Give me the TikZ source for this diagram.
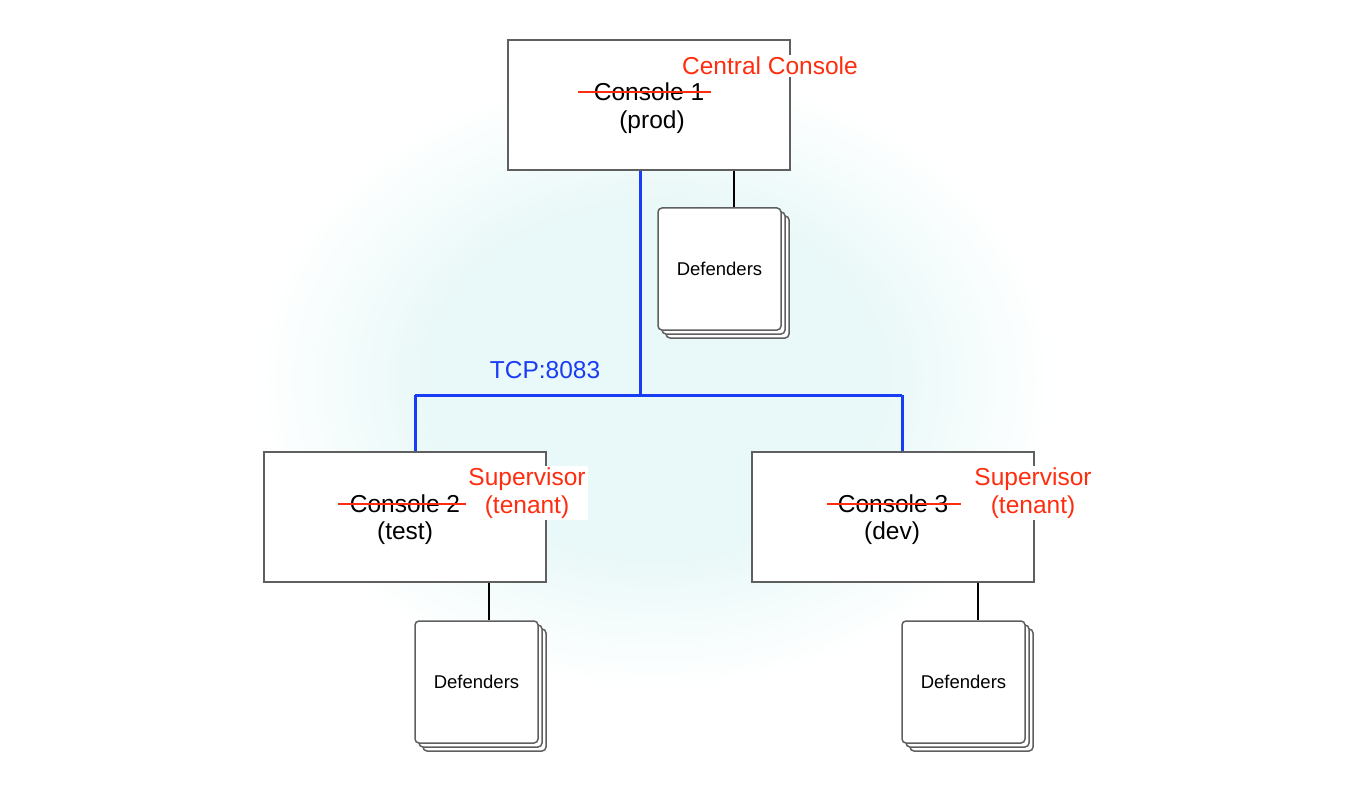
\documentclass[tikz,border=0pt]{standalone}
\usepackage{fontspec}
\setmainfont{Liberation Sans}
\usetikzlibrary{shadows}
\definecolor{lab}{RGB}{255,45,15}
\definecolor{net}{RGB}{25,60,245}
\definecolor{edge}{RGB}{95,95,95}
\definecolor{glow}{RGB}{233,248,248}
\pgfdeclareradialshading{glowshade}{\pgfpoint{0bp}{0bp}}{color(0bp)=(glow); color(14bp)=(glow); color(25bp)=(white); color(50bp)=(white)}
\begin{document}
\begin{tikzpicture}[x=1pt,y=-1pt,
  big/.style={font=\fontsize{24.5}{28}\selectfont},
  conbox/.style={draw=edge, line width=1.8pt, fill=white, minimum width=282pt, minimum height=130pt, inner sep=0pt},
  defbox/.style={draw=edge, line width=1.5pt, fill=white, rounded corners=4pt,
    minimum width=123pt, minimum height=122pt, inner sep=0pt,
    font=\fontsize{18.5}{22}\selectfont,
    double copy shadow={shadow xshift=4pt, shadow yshift=-4pt, draw=edge, fill=white, line width=1.5pt}},
  netline/.style={draw=net, line width=3pt},
  link/.style={draw=black, line width=1.5pt},
  strike/.style={draw=lab, line width=1.6pt},
  tag/.style={big, text=lab, fill=white, inner sep=2pt, align=center}]
\useasboundingbox (0,0) rectangle (1372,791);
\begin{scope}
\clip (0,0) rectangle (1372,791);
\shade[shading=glowshade] (655,380) ellipse [x radius=400, y radius=310];
\end{scope}
% named points
\coordinate (hub) at (640,395);
\coordinate (l2) at (415,395);
\coordinate (l3) at (902,395);
\coordinate (k1) at (734,190);
\coordinate (k2) at (489,600);
\coordinate (k3) at (978,600);
% boxes
\node[conbox] (c1) at (649,105) {};
\node[conbox] (c2) at (405,517) {};
\node[conbox] (c3) at (893,517) {};
% network lines
\draw[netline] (c1.south -| hub) -- (hub);
\draw[netline] (l2) -- (l3);
\draw[netline] (l2) -- (c2.north -| l2);
\draw[netline] (l3) -- (c3.north -| l3);
\node[big, text=net] (tcp) at (545,370) {TCP:8083};
% defenders
\node[defbox] (d1) at (719.5,269) {Defenders};
\node[defbox] (d2) at (476.5,682) {Defenders};
\node[defbox] (d3) at (963.5,682) {Defenders};
\draw[link] (c1.south -| k1) -- (d1.north -| k1);
\draw[link] (c2.south -| k2) -- (d2.north -| k2);
\draw[link] (c3.south -| k3) -- (d3.north -| k3);
% console texts
\node[big] (c1n) at (649,92) {Console 1};
\node[big] (c1e) at (652,122) {(prod)};
\node[big] (c2n) at (405,504) {Console 2};
\node[big] (c2e) at (405,533) {(test)};
\node[big] (c3n) at (893,504) {Console 3};
\node[big] (c3e) at (892,533) {(dev)};
\draw[strike] ([xshift=-12pt]c1n.west) -- ([xshift=3pt]c1n.east);
\draw[strike] ([xshift=-8pt]c2n.west) -- ([xshift=9pt]c2n.east);
\draw[strike] ([xshift=-7pt]c3n.west) -- ([xshift=9pt]c3n.east);
% labels
\node[tag] (cc) at (770,66) {Central Console};
\node[tag] (s2) at (527,493) {Supervisor\\(tenant)};
\node[tag] (s3) at (1033,493) {Supervisor\\(tenant)};
\end{tikzpicture}
\end{document}
